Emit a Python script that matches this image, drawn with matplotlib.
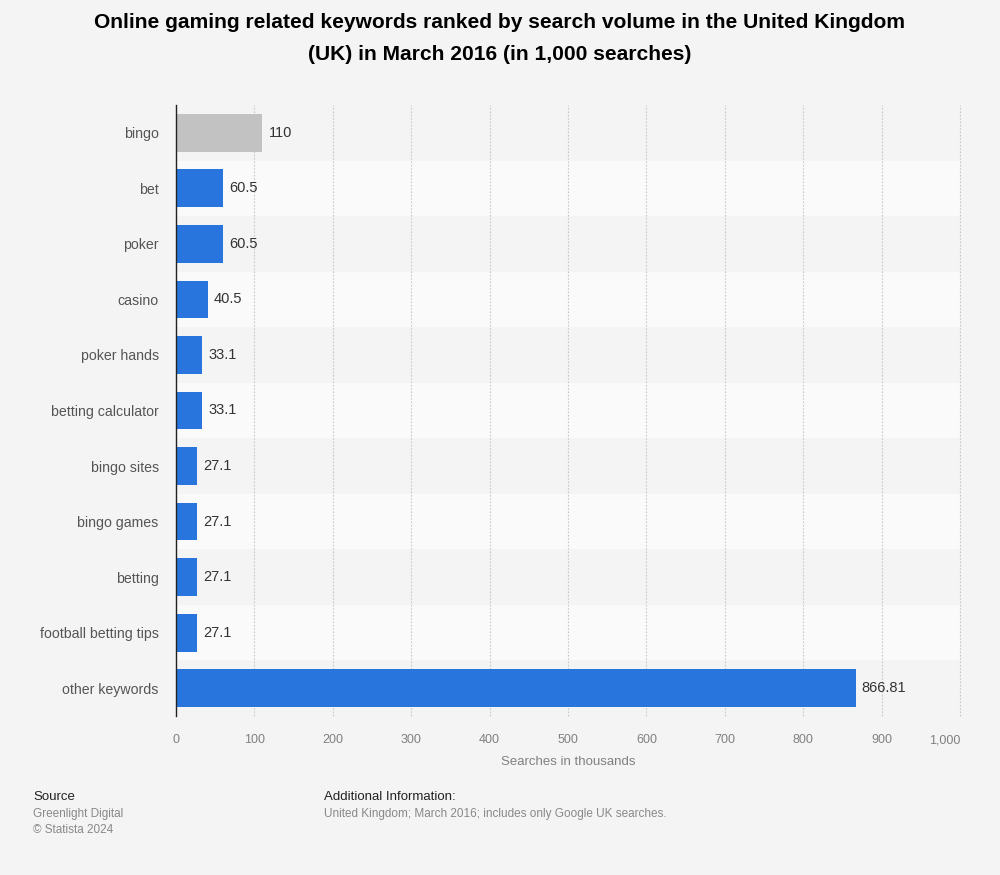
import matplotlib
matplotlib.use("Agg")
import matplotlib.pyplot as plt
import numpy as np

categories = ["bingo", "bet", "poker", "casino", "poker hands", "betting calculator",
              "bingo sites", "bingo games", "betting", "football betting tips", "other keywords"]
values = [110, 60.5, 60.5, 40.5, 33.1, 33.1, 27.1, 27.1, 27.1, 27.1, 866.81]
value_labels = ["110", "60.5", "60.5", "40.5", "33.1", "33.1", "27.1", "27.1", "27.1", "27.1", "866.81"]
xticks = [0, 100, 200, 300, 400, 500, 600, 700, 800, 900, 1000]
xtick_labels = ["0", "100", "200", "300", "400", "500", "600", "700", "800", "900", "1,000"]

plt.rcParams['font.family'] = ['Liberation Sans', 'DejaVu Sans']
bg = "#f4f4f4"
fig = plt.figure(figsize=(10, 8.75), dpi=100, facecolor=bg)
ax = fig.add_axes([0.176, 1 - 716 / 875, 0.784, (716 - 105) / 875])
ax.set_facecolor(bg)

n = len(categories)
y = np.arange(n)
for i in range(n):
    if i % 2 == 1:
        ax.axhspan(i - 0.5, i + 0.5, color="#fafafa", zorder=0, lw=0)

colors = ["#c2c2c2"] + ["#2876dd"] * (n - 1)
ax.barh(y, values, height=0.68, color=colors, zorder=3)
for yi, v, lab in zip(y, values, value_labels):
    ax.text(v + 8, yi, lab, va="center", ha="left", fontsize=10.5, color="#333333", zorder=4)

ax.set_ylim(n - 0.5, -0.5)
ax.set_xlim(0, 1000)
ax.set_yticks(y)
ax.set_yticklabels(categories, fontsize=10.2, color="#555555")
ax.set_xticks(xticks)
ax.set_xticklabels(xtick_labels, fontsize=9, color="#808080")
ax.get_xticklabels()[-1].set_horizontalalignment("right")
ax.tick_params(axis="y", length=0, pad=12.5)
ax.tick_params(axis="x", length=0, pad=13)
ax.xaxis.grid(True, linestyle=(0, (1.5, 1.5)), color="#c8c8c8", lw=0.8, zorder=1)
for gl in ax.get_xgridlines():
    gl.set_clip_on(False)
ax.set_axisbelow(True)
for s in ["top", "right", "bottom"]:
    ax.spines[s].set_visible(False)
ax.spines["left"].set_color("#222222")
ax.spines["left"].set_linewidth(1.0)
ax.spines["left"].set_zorder(5)
ax.set_xlabel("Searches in thousands", fontsize=9.5, color="#808080", labelpad=7)

fig.text(0.5, 1 - 22 / 875, "Online gaming related keywords ranked by search volume in the United Kingdom",
         ha="center", va="center", fontsize=15.1, fontweight="bold", color="#000000")
fig.text(0.5, 1 - 54 / 875, "(UK) in March 2016 (in 1,000 searches)",
         ha="center", va="center", fontsize=15.1, fontweight="bold", color="#000000")

fig.text(0.033, 1 - 797 / 875, "Source", fontsize=9.5, color="#222222", va="center")
fig.text(0.033, 1 - 814 / 875, "Greenlight Digital", fontsize=8.5, color="#888888", va="center")
fig.text(0.033, 1 - 830 / 875, "© Statista 2024", fontsize=8.5, color="#888888", va="center")
fig.text(0.324, 1 - 797 / 875, "Additional Information:", fontsize=9.5, color="#222222", va="center")
fig.text(0.324, 1 - 814 / 875, "United Kingdom; March 2016; includes only Google UK searches.",
         fontsize=8.5, color="#888888", va="center")

fig.savefig("out.png", dpi=100, facecolor=bg)
